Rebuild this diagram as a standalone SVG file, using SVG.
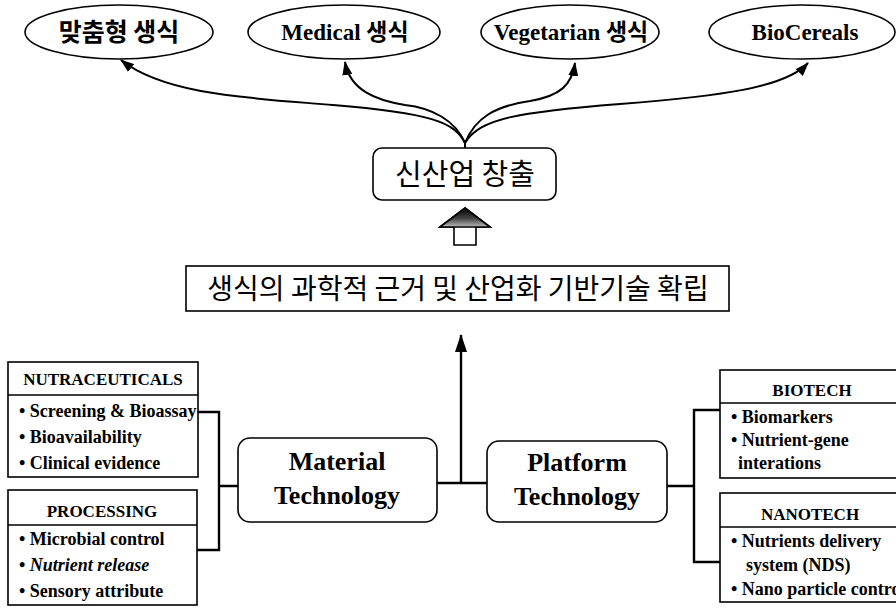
<svg xmlns="http://www.w3.org/2000/svg" width="896" height="608" viewBox="0 0 896 608">
<style>
  .shape { fill: #ffffff; stroke: #000000; stroke-width: 1.6; }
  .line { fill: none; stroke: #000000; stroke-width: 2.4; }
  .curve { fill: none; stroke: #000000; stroke-width: 2; marker-end: url(#ah); }
  .ko { font-family: "Noto Sans CJK KR", "Noto Sans", sans-serif; fill: #000; text-anchor: middle; }
  .tm { font-family: "Liberation Serif", "Noto Sans CJK KR", serif; font-weight: bold; fill: #000; }
  .c { text-anchor: middle; }
  .item { font-size: 18px; }
</style>
<defs>
  <marker id="ah" markerUnits="userSpaceOnUse" markerWidth="14" markerHeight="10" refX="13" refY="5" orient="auto">
    <path d="M0,0 L14,5 L0,10 Z" fill="#000"/>
  </marker>
  <marker id="ah2" markerUnits="userSpaceOnUse" markerWidth="18" markerHeight="12" refX="17" refY="6" orient="auto">
    <path d="M0,0 L18,6 L0,12 Z" fill="#000"/>
  </marker>
  <linearGradient id="hg" x1="0" y1="0" x2="0" y2="1">
    <stop offset="0" stop-color="#000"/>
    <stop offset="0.55" stop-color="#444"/>
    <stop offset="1" stop-color="#bbb"/>
  </linearGradient>
</defs>
<rect width="896" height="608" fill="#fff"/>

<g id="connectors">
  <path class="curve" d="M465,148 L465,143 C455,122 430,113 333,105 C250,98 165,95 121,60"/>
  <path class="curve" d="M465,143 C455,120 432,108 405,105 C375,100 350,90 345,62"/>
  <path class="curve" d="M465,143 C475,118 495,106 530,101 C560,96 572,85 575,63"/>
  <path class="curve" d="M465,143 C480,118 520,112 620,104 C720,96 785,88 808,63"/>
  <path class="line" d="M437,483 L487,483"/>
  <path class="line" d="M461,483 L461,335" marker-end="url(#ah2)"/>
  <path class="line" d="M197,412 L219,412 L219,550 L197,550 M219,486 L238,486"/>
  <path class="line" d="M720,410 L694,410 L694,562 L720,562 M667,486 L694,486"/>
</g>

<g id="n-custom">
  <ellipse class="shape" cx="119" cy="32" rx="94" ry="27"/>
  <text class="ko" x="119" y="41" font-size="25" font-weight="bold">맞춤형 생식</text>
</g>
<g id="n-medical">
  <ellipse class="shape" cx="344" cy="32" rx="96" ry="27"/>
  <text class="tm c" x="345" y="40" font-size="23">Medical 생식</text>
</g>
<g id="n-vegetarian">
  <ellipse class="shape" cx="570" cy="32" rx="89" ry="27"/>
  <text class="tm c" x="571" y="40" font-size="23">Vegetarian 생식</text>
</g>
<g id="n-biocereals">
  <ellipse class="shape" cx="802" cy="32" rx="93" ry="27"/>
  <text class="tm c" x="805" y="40" font-size="23">BioCereals</text>
</g>

<g id="n-newindustry">
  <rect class="shape" x="373" y="148" width="183" height="52" rx="9"/>
  <text class="ko" x="465" y="185" font-size="29">신산업 창출</text>
</g>

<g id="n-blockarrow">
  <path d="M465,208 L490,227 L476,227 L476,245 L454,245 L454,227 L440,227 Z" fill="#fff" stroke="#000" stroke-width="1.6"/>
  <path d="M465,208 L490,227 L440,227 Z" fill="url(#hg)" stroke="#000" stroke-width="1.6"/>
</g>

<g id="n-foundation">
  <rect class="shape" x="186" y="266" width="543" height="45"/>
  <text class="ko" x="458" y="299" font-size="28">생식의 과학적 근거 및 산업화 기반기술 확립</text>
</g>

<g id="n-material">
  <rect class="shape" x="238" y="438" width="199" height="84" rx="12"/>
  <text class="tm c" x="337" y="470" font-size="26">Material</text>
  <text class="tm c" x="337" y="504" font-size="26">Technology</text>
</g>
<g id="n-platform">
  <rect class="shape" x="487" y="441" width="180" height="81" rx="12"/>
  <text class="tm c" x="577" y="471" font-size="26">Platform</text>
  <text class="tm c" x="577" y="505" font-size="26">Technology</text>
</g>

<g id="n-nutraceuticals">
  <rect class="shape" x="8" y="362" width="190" height="115"/>
  <line x1="8" y1="395" x2="198" y2="395" stroke="#000" stroke-width="1.6"/>
  <text class="tm c" x="103" y="385" font-size="17">NUTRACEUTICALS</text>
  <text class="tm item" x="19" y="417">• Screening &amp; Bioassay</text>
  <text class="tm item" x="19" y="443">• Bioavailability</text>
  <text class="tm item" x="19" y="469">• Clinical evidence</text>
</g>
<g id="n-processing">
  <rect class="shape" x="8" y="490" width="189" height="115"/>
  <line x1="8" y1="525" x2="197" y2="525" stroke="#000" stroke-width="1.6"/>
  <text class="tm c" x="102" y="517" font-size="17">PROCESSING</text>
  <text class="tm item" x="19" y="545">• Microbial control</text>
  <text class="tm item" x="19" y="571"><tspan>• </tspan><tspan font-style="italic">Nutrient release</tspan></text>
  <text class="tm item" x="19" y="597">• Sensory attribute</text>
</g>
<g id="n-biotech">
  <rect class="shape" x="720" y="370" width="190" height="108"/>
  <line x1="720" y1="403" x2="896" y2="403" stroke="#000" stroke-width="1.6"/>
  <text class="tm c" x="812" y="396" font-size="17">BIOTECH</text>
  <text class="tm item" x="731" y="423">• Biomarkers</text>
  <text class="tm item" x="731" y="446">• Nutrient-gene</text>
  <text class="tm item" x="738" y="469">interations</text>
</g>
<g id="n-nanotech">
  <rect class="shape" x="720" y="493" width="190" height="109"/>
  <line x1="720" y1="527" x2="896" y2="527" stroke="#000" stroke-width="1.6"/>
  <text class="tm c" x="810" y="520" font-size="17">NANOTECH</text>
  <text class="tm item" x="731" y="547">• Nutrients delivery</text>
  <text class="tm item" x="746" y="571">system (NDS)</text>
  <text class="tm item" x="731" y="595">• Nano particle control</text>
</g>
</svg>
